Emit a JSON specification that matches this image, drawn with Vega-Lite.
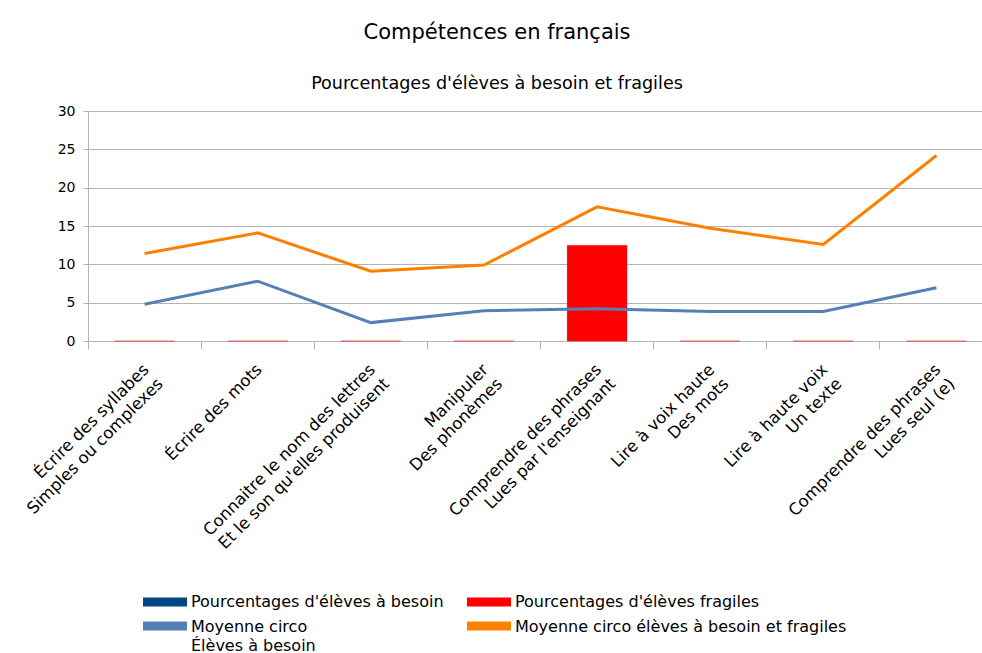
{
  "$schema": "https://vega.github.io/schema/vega-lite/v6.json",
  "width": 894,
  "height": 230,
  "autosize": {"type": "none"},
  "padding": {"left": 88, "top": 111, "right": 0, "bottom": 312},
  "background": "white",
  "title": {
    "text": "Compétences en français",
    "subtitle": "Pourcentages d'élèves à besoin et fragiles",
    "font": "DejaVu Sans",
    "fontSize": 21,
    "fontWeight": "normal",
    "color": "black",
    "subtitleFont": "DejaVu Sans",
    "subtitleFontSize": 17.6,
    "subtitleColor": "black",
    "anchor": "middle",
    "dx": -38,
    "offset": 11,
    "subtitlePadding": 32
  },
  "config": {
    "view": {"stroke": null},
    "legend": {
      "orient": "none",
      "direction": "horizontal",
      "columns": 2,
      "padding": 0,
      "labelFont": "DejaVu Sans",
      "labelFontSize": 16,
      "labelColor": "black",
      "labelOffset": 4,
      "rowPadding": 0,
      "labelLimit": 0,
      "title": null,
      "symbolType": "M-1,-0.2H1V0.2H-1Z",
      "symbolSize": 1936,
      "symbolStrokeWidth": 0
    }
  },
  "datasets": {
    "bars": [
      {"cat": "Écrire des syllabes\nSimples ou complexes", "series": "Pourcentages d'élèves à besoin", "value": 0},
      {"cat": "Écrire des mots", "series": "Pourcentages d'élèves à besoin", "value": 0},
      {"cat": "Connaitre le nom des lettres\nEt le son qu'elles produisent", "series": "Pourcentages d'élèves à besoin", "value": 0},
      {"cat": "Manipuler\nDes phonèmes", "series": "Pourcentages d'élèves à besoin", "value": 0},
      {"cat": "Comprendre des phrases\nLues par l'enseignant", "series": "Pourcentages d'élèves à besoin", "value": 0},
      {"cat": "Lire à voix haute\nDes mots", "series": "Pourcentages d'élèves à besoin", "value": 0},
      {"cat": "Lire à haute voix\nUn texte", "series": "Pourcentages d'élèves à besoin", "value": 0},
      {"cat": "Comprendre des phrases\nLues seul (e)", "series": "Pourcentages d'élèves à besoin", "value": 0},
      {"cat": "Écrire des syllabes\nSimples ou complexes", "series": "Pourcentages d'élèves fragiles", "value": 0},
      {"cat": "Écrire des mots", "series": "Pourcentages d'élèves fragiles", "value": 0},
      {"cat": "Connaitre le nom des lettres\nEt le son qu'elles produisent", "series": "Pourcentages d'élèves fragiles", "value": 0},
      {"cat": "Manipuler\nDes phonèmes", "series": "Pourcentages d'élèves fragiles", "value": 0},
      {"cat": "Comprendre des phrases\nLues par l'enseignant", "series": "Pourcentages d'élèves fragiles", "value": 12.5},
      {"cat": "Lire à voix haute\nDes mots", "series": "Pourcentages d'élèves fragiles", "value": 0},
      {"cat": "Lire à haute voix\nUn texte", "series": "Pourcentages d'élèves fragiles", "value": 0},
      {"cat": "Comprendre des phrases\nLues seul (e)", "series": "Pourcentages d'élèves fragiles", "value": 0}
    ],
    "lines": [
      {"cat": "Écrire des syllabes\nSimples ou complexes", "series": "Moyenne circo Élèves à besoin", "value": 4.8},
      {"cat": "Écrire des mots", "series": "Moyenne circo Élèves à besoin", "value": 7.8},
      {"cat": "Connaitre le nom des lettres\nEt le son qu'elles produisent", "series": "Moyenne circo Élèves à besoin", "value": 2.4},
      {"cat": "Manipuler\nDes phonèmes", "series": "Moyenne circo Élèves à besoin", "value": 3.95},
      {"cat": "Comprendre des phrases\nLues par l'enseignant", "series": "Moyenne circo Élèves à besoin", "value": 4.2},
      {"cat": "Lire à voix haute\nDes mots", "series": "Moyenne circo Élèves à besoin", "value": 3.85},
      {"cat": "Lire à haute voix\nUn texte", "series": "Moyenne circo Élèves à besoin", "value": 3.85},
      {"cat": "Comprendre des phrases\nLues seul (e)", "series": "Moyenne circo Élèves à besoin", "value": 6.95},
      {"cat": "Écrire des syllabes\nSimples ou complexes", "series": "Moyenne circo élèves à besoin et fragiles", "value": 11.4},
      {"cat": "Écrire des mots", "series": "Moyenne circo élèves à besoin et fragiles", "value": 14.1},
      {"cat": "Connaitre le nom des lettres\nEt le son qu'elles produisent", "series": "Moyenne circo élèves à besoin et fragiles", "value": 9.1},
      {"cat": "Manipuler\nDes phonèmes", "series": "Moyenne circo élèves à besoin et fragiles", "value": 9.9},
      {"cat": "Comprendre des phrases\nLues par l'enseignant", "series": "Moyenne circo élèves à besoin et fragiles", "value": 17.5},
      {"cat": "Lire à voix haute\nDes mots", "series": "Moyenne circo élèves à besoin et fragiles", "value": 14.7},
      {"cat": "Lire à haute voix\nUn texte", "series": "Moyenne circo élèves à besoin et fragiles", "value": 12.6},
      {"cat": "Comprendre des phrases\nLues seul (e)", "series": "Moyenne circo élèves à besoin et fragiles", "value": 24.2}
    ]
  },
  "encoding": {
    "x": {
      "field": "cat",
      "type": "nominal",
      "sort": null,
      "scale": {"range": [0, 905], "paddingInner": 0, "paddingOuter": 0},
      "axis": {
        "title": null,
        "labelAngle": -45,
        "labelAlign": "right",
        "labelBaseline": "top",
        "labelExpr": "split(datum.label, '\\n')",
        "labelFont": "DejaVu Sans",
        "labelFontSize": 16.5,
        "labelLineHeight": 20,
        "labelColor": "black",
        "labelLimit": 0,
        "labelOverlap": false,
        "bandPosition": 0,
        "labelOffset": -4,
        "labelPadding": 12,
        "tickSize": 8,
        "tickColor": "#b3b3b3",
        "domainColor": "#b3b3b3",
        "grid": false
      }
    },
    "y": {
      "field": "value",
      "type": "quantitative",
      "scale": {"domain": [0, 30], "nice": false},
      "axis": {
        "title": null,
        "values": [0, 5, 10, 15, 20, 25, 30],
        "grid": true,
        "gridColor": "#b3b3b3",
        "domainColor": "#b3b3b3",
        "tickColor": "#b3b3b3",
        "tickSize": 5,
        "labelFont": "DejaVu Sans",
        "labelFontSize": 14,
        "labelColor": "black",
        "labelPadding": 8
      }
    }
  },
  "layer": [
    {
      "data": {"name": "bars"},
      "mark": {"type": "bar", "width": {"band": 0.53}, "stroke": "#ff0000", "strokeWidth": 1, "strokeOpacity": 0.18},
      "encoding": {
        "fill": {
          "field": "series",
          "type": "nominal",
          "scale": {
            "domain": ["Pourcentages d'élèves à besoin", "Pourcentages d'élèves fragiles"],
            "range": ["#004586", "#ff0000"]
          },
          "legend": {
            "orient": "none",
            "legendX": 55,
            "legendY": 469,
            "columnPadding": 23,
            "labelBaseline": "middle",
            "encode": {
              "symbols": {"update": {"fill": {"scale": "fill", "field": "value"}, "stroke": {"value": "transparent"}, "opacity": {"value": 1}}}
            }
          }
        }
      }
    },
    {
      "data": {"name": "lines"},
      "mark": {"type": "line", "strokeWidth": 3},
      "encoding": {
        "stroke": {
          "field": "series",
          "type": "nominal",
          "scale": {
            "domain": ["Moyenne circo Élèves à besoin", "Moyenne circo élèves à besoin et fragiles"],
            "range": ["#5680b5", "#ff8000"]
          },
          "legend": {
            "orient": "none",
            "legendX": 55,
            "legendY": 493,
            "columnPadding": 151,
            "labelExpr": "datum.label == 'Moyenne circo Élèves à besoin' ? ['Moyenne circo', 'Élèves à besoin'] : [datum.label, ' ']",
            "labelBaseline": "alphabetic",
            "encode": {
              "symbols": {"update": {"fill": {"scale": "stroke", "field": "value"}, "stroke": {"value": "transparent"}, "opacity": {"value": 1}}},
              "labels": {"update": {"lineHeight": {"value": 19}, "dy": {"value": 6}}}
            }
          }
        }
      }
    }
  ]
}
